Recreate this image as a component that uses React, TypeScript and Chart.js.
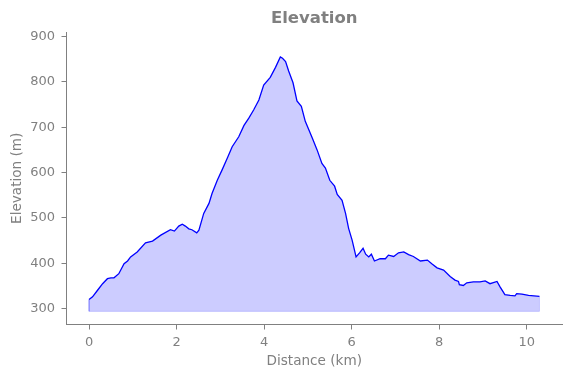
import React, { useEffect, useRef } from "react";
import { Chart, registerables } from "chart.js";

Chart.register(...registerables);

const distanceKm = [
  0.0, 0.08, 0.19, 0.31, 0.42, 0.5, 0.57, 0.68, 0.8, 0.88, 0.95, 1.1, 1.29, 1.45, 1.64, 1.86, 1.95, 2.05,
  2.13, 2.2, 2.28, 2.35, 2.46, 2.51, 2.62, 2.74, 2.81, 2.93, 3.04, 3.16, 3.27, 3.42, 3.54, 3.65, 3.76,
  3.88, 3.99, 4.14, 4.26, 4.37, 4.42, 4.49, 4.56, 4.66, 4.75, 4.85, 4.94, 5.1, 5.21, 5.32, 5.4, 5.5,
  5.61, 5.67, 5.78, 5.86, 5.93, 6.01, 6.1, 6.18, 6.26, 6.32, 6.39, 6.45, 6.52, 6.65, 6.77, 6.84, 6.96,
  7.07, 7.19, 7.3, 7.41, 7.57, 7.73, 7.83, 7.95, 8.1, 8.25, 8.36, 8.44, 8.46, 8.55, 8.63, 8.78, 8.93,
  9.05, 9.16, 9.32, 9.39, 9.5, 9.62, 9.73, 9.77, 9.89, 10.04, 10.29,
];

const elevationM = [
  320, 326, 340, 355, 366, 368, 368, 377, 399, 405, 414, 425, 445, 449, 462, 474, 471, 482,
  486, 482, 476, 474, 467, 473, 510, 532, 554, 583, 606, 632, 657, 679, 704, 720, 738,
  760, 793, 810, 832, 855, 852, 845, 824, 798, 758, 746, 713, 676, 650, 620, 610, 583,
  570, 552, 539, 510, 477, 451, 414, 423, 433, 420, 414, 420, 405, 410, 410, 418, 415,
  423, 425, 419, 415, 405, 407, 399, 390, 385, 371, 363, 360, 353, 351, 357, 359, 359,
  361, 355, 360, 348, 331, 329, 328, 333, 332, 329, 327,
];

const xTickValues = [0, 2, 4, 6, 8, 10];
const yTickValues = [300, 400, 500, 600, 700, 800, 900];
const fillBase = 294;

const GRAY = "#808080";
const FONT = "'DejaVu Sans', sans-serif";

const titlePlugin = {
  id: "axesTitle",
  afterDraw(chart: any) {
    const { ctx, chartArea } = chart;
    ctx.save();
    ctx.font = `bold 16.5px ${FONT}`;
    ctx.fillStyle = GRAY;
    ctx.textAlign = "center";
    ctx.textBaseline = "middle";
    ctx.fillText("Elevation", (chartArea.left + chartArea.right) / 2, 18.5);
    ctx.restore();
  },
};

export default function App() {
  const canvasRef = useRef<HTMLCanvasElement | null>(null);

  useEffect(() => {
    if (!canvasRef.current) return;
    const points = distanceKm.map((x, i) => ({ x, y: elevationM[i] }));
    const first = points[0];
    const last = points[points.length - 1];
    const edge = [
      { x: first.x, y: first.y },
      { x: first.x, y: fillBase },
      { x: last.x, y: fillBase },
      { x: last.x, y: last.y },
    ];
    const chart = new Chart(canvasRef.current, {
      type: "line",
      data: {
        datasets: [
          {
            data: points,
            borderColor: "#0000ff",
            borderWidth: 1.3,
            pointRadius: 0,
            tension: 0,
            fill: { value: fillBase },
            backgroundColor: "rgba(0,0,255,0.2)",
            order: 1,
          },
          {
            data: edge,
            borderColor: "rgba(0,0,255,0.2)",
            borderWidth: 1,
            pointRadius: 0,
            fill: false,
            order: 2,
          },
        ],
      },
      options: {
        animation: false,
        responsive: false,
        events: [],
        layout: { padding: { top: 32, right: 9, left: 0, bottom: 0 } },
        plugins: {
          legend: { display: false },
          tooltip: { enabled: false },
          title: { display: false },
        },
        scales: {
          x: {
            type: "linear",
            min: -0.515,
            max: 10.805,
            afterBuildTicks: (scale: any) => {
              scale.ticks = xTickValues.map((v) => ({ value: v }));
            },
            afterFit: (scale: any) => {
              scale.height = 53.5;
            },
            border: { display: true, color: GRAY, width: 1 },
            grid: {
              display: true,
              drawOnChartArea: false,
              drawTicks: true,
              tickLength: 5,
              tickColor: GRAY,
              tickWidth: 1,
            },
            ticks: {
              color: GRAY,
              font: { family: FONT, size: 13 },
              padding: 5,
              maxRotation: 0,
              autoSkip: false,
            },
            title: {
              display: true,
              text: "Distance (km)",
              color: GRAY,
              font: { family: FONT, size: 13.6 },
              padding: { top: 0, bottom: 8.5 },
            },
          },
          y: {
            type: "linear",
            min: 265,
            max: 910,
            afterBuildTicks: (scale: any) => {
              scale.ticks = yTickValues.map((v) => ({ value: v }));
            },
            afterFit: (scale: any) => {
              scale.width = 66.5;
            },
            border: { display: true, color: GRAY, width: 1 },
            grid: {
              display: true,
              drawOnChartArea: false,
              drawTicks: true,
              tickLength: 5,
              tickColor: GRAY,
              tickWidth: 1,
            },
            ticks: {
              color: GRAY,
              font: { family: FONT, size: 13 },
              padding: 6.5,
              autoSkip: false,
            },
            title: {
              display: true,
              text: "Elevation (m)",
              color: GRAY,
              font: { family: FONT, size: 13.6 },
              padding: { top: 9, bottom: 0 },
            },
          },
        },
      },
      plugins: [titlePlugin],
    });
    return () => chart.destroy();
  }, []);

  return (
    <div style={{ position: "fixed", left: 0, top: 0, width: 571, height: 378, background: "#fff" }}>
      <canvas ref={canvasRef} width={571} height={378} style={{ display: "block" }} />
    </div>
  );
}
